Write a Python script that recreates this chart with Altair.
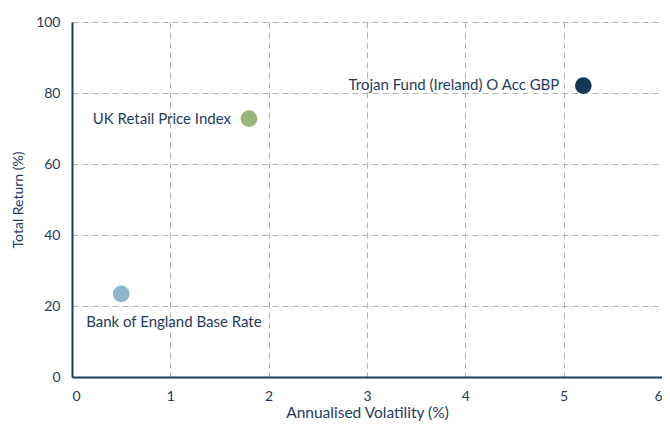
import altair as alt
import pandas as pd

names = ["Bank of England Base Rate", "UK Retail Price Index", "Trojan Fund (Ireland) O Acc GBP"]
volatility = [0.5, 1.8, 5.2]
total_return = [23.4, 72.8, 82.1]
colors = ["#8db7cd", "#98b67a", "#15375a"]

df = pd.DataFrame({"name": names, "vol": volatility, "ret": total_return})

FONT = "Lato"
NAVY = "#1f3b5c"

x = alt.X("vol:Q", title="Annualised Volatility (%)",
          scale=alt.Scale(domain=[0, 6], nice=False),
          axis=alt.Axis(values=[0, 1, 2, 3, 4, 5, 6], format="d"))
y = alt.Y("ret:Q", title="Total Return (%)",
          scale=alt.Scale(domain=[0, 100], nice=False),
          axis=alt.Axis(values=[0, 20, 40, 60, 80, 100]))

base = alt.Chart(df)

points = base.mark_circle(size=280, opacity=1).encode(
    x=x, y=y,
    color=alt.Color("name:N", scale=alt.Scale(domain=names, range=colors), legend=None),
)

lab_boe = base.transform_filter(alt.datum.name == names[0]).mark_text(
    align="left", baseline="middle", dx=-35, dy=28, font=FONT, fontSize=15, color=NAVY
).encode(x=x, y=y, text="name:N")
lab_rpi = base.transform_filter(alt.datum.name == names[1]).mark_text(
    align="right", baseline="middle", dx=-18, dy=0, font=FONT, fontSize=15, color=NAVY
).encode(x=x, y=y, text="name:N")
lab_tro = base.transform_filter(alt.datum.name == names[2]).mark_text(
    align="right", baseline="middle", dx=-24, dy=-1, font=FONT, fontSize=15, color=NAVY
).encode(x=x, y=y, text="name:N")

chart = alt.layer(points, lab_boe, lab_rpi, lab_tro).properties(
    width=590, height=355,
    autosize=alt.AutoSizeParams(type="none"),
    padding={"left": 64, "top": 14, "right": 0, "bottom": 46},
).configure_view(stroke=None).configure_axis(
    domainColor=NAVY, domainWidth=2, ticks=False,
    gridColor="#b3b3b3", gridDash=[6, 4], gridWidth=1,
    labelFont=FONT, labelFontSize=14, labelColor=NAVY,
    titleFont=FONT, titleFontWeight="normal", titleColor=NAVY,
).configure_axisX(titlePadding=2, labelPadding=12, titleFontSize=15.5).configure_axisY(
    titlePadding=10, labelPadding=12, titleFontSize=14)

chart.save("out.html", embed_options={"renderer": "svg", "actions": False})
